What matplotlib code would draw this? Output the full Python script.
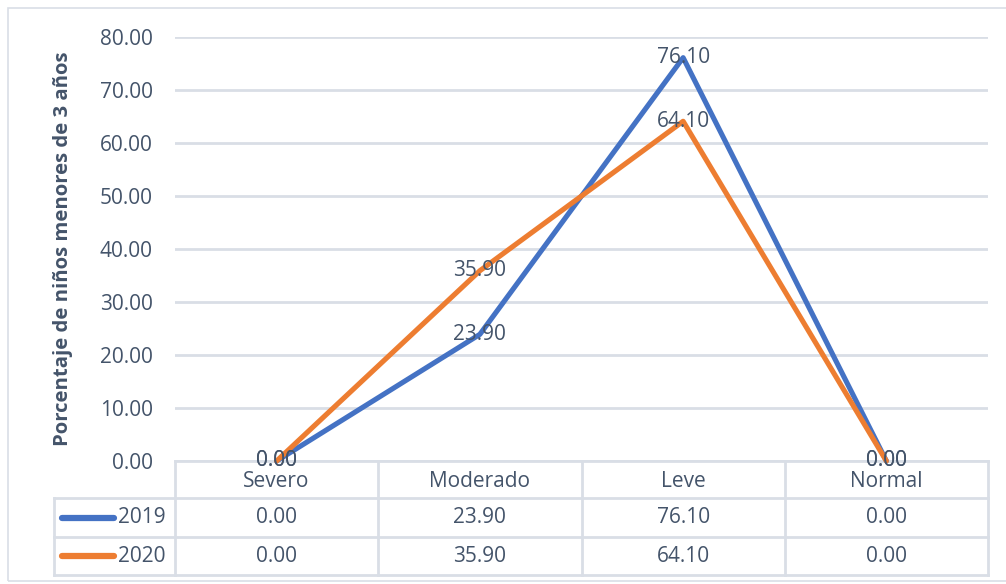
import matplotlib.pyplot as plt
from matplotlib.patches import Rectangle
from matplotlib.lines import Line2D

plt.rcParams['font.family'] = ['Open Sans', 'DejaVu Sans']

categories = ["Severo", "Moderado", "Leve", "Normal"]
series_names = ["2019", "2020"]
values_2019 = [0.00, 23.90, 76.10, 0.00]
values_2020 = [0.00, 35.90, 64.10, 0.00]
y_ticks = [0, 10, 20, 30, 40, 50, 60, 70, 80]

series = [values_2019, values_2020]
colors = ["#4472C4", "#ED7D31"]
text_color = "#44546A"
grid_color = "#D9DEE6"
fs = 15

W, H = 1006, 584
fig = plt.figure(figsize=(W / 100, H / 100), dpi=100)

# outer chart frame
fig.patches.append(Rectangle((8 / W, 3 / H), 1.2, (H - 11) / H, transform=fig.transFigure,
                             fill=False, edgecolor=grid_color, linewidth=1.2))

left, right, top, base = 175, 988, 37, 461
ax = fig.add_axes([left / W, (H - base) / H, (right - left) / W, (base - top) / H])
ax.set_xlim(-0.5, len(categories) - 0.5)
ax.set_ylim(0, 80)
for s in ax.spines.values():
    s.set_visible(False)
ax.set_yticks(y_ticks)
ax.set_yticklabels([f"{v:.2f}" for v in y_ticks], fontsize=fs, color=text_color)
ax.tick_params(axis='y', length=0, pad=16)
ax.set_xticks([])
ax.grid(axis='y', color=grid_color, linewidth=2)
ax.set_axisbelow(True)

ax.set_ylabel("Porcentaje de niños menores de 3 años", fontsize=14.6, fontweight='bold',
              color=text_color, labelpad=19)

x = list(range(len(categories)))
for vals, c in zip(series, colors):
    ax.plot(x, vals, color=c, linewidth=3.7, solid_joinstyle='round', solid_capstyle='round',
            clip_on=False, zorder=3)
for vals in series:
    for xi, v in zip(x, vals):
        ax.text(xi, v, f"{v:.2f}", ha='center', va='center', fontsize=fs, color=text_color,
                zorder=4, clip_on=False)

# data table under the plot
px = 80 / (base - top)
row_edges = [0, -37 * px, -76 * px, -114 * px]
tab_left = -0.5 - (left - 54) / ((right - left) / len(categories))
tr = ax.transData
line_kw = dict(color=grid_color, linewidth=2, transform=tr, clip_on=False)

ax.add_line(Line2D([-0.5, 3.5], [0, 0], **line_kw))
for r in row_edges[1:]:
    ax.add_line(Line2D([tab_left, 3.5], [r, r], **line_kw))
ax.add_line(Line2D([tab_left, tab_left], [row_edges[1], row_edges[3]], **line_kw))
for i in range(len(categories) + 1):
    ax.add_line(Line2D([i - 0.5, i - 0.5], [0, row_edges[3]], **line_kw))

for xi, cat in zip(x, categories):
    ax.text(xi, (row_edges[0] + row_edges[1]) / 2 - 0.4, cat, ha='center', va='center',
            fontsize=fs, color=text_color, clip_on=False)

unit = (right - left) / len(categories)
for k, (name, vals, c) in enumerate(zip(series_names, series, colors)):
    yc = (row_edges[k + 1] + row_edges[k + 2]) / 2
    x0 = tab_left + 8 / unit
    x1 = tab_left + 60 / unit
    ax.add_line(Line2D([x0, x1], [yc, yc], color=c, linewidth=4.5, solid_capstyle='round',
                       transform=tr, clip_on=False))
    ax.text(x1 + 4 / unit, yc, name, ha='left', va='center', fontsize=fs, color=text_color,
            clip_on=False)
    for xi, v in zip(x, vals):
        ax.text(xi, yc, f"{v:.2f}", ha='center', va='center', fontsize=fs, color=text_color,
                clip_on=False)

fig.savefig("out.png", dpi=100, facecolor='white')
